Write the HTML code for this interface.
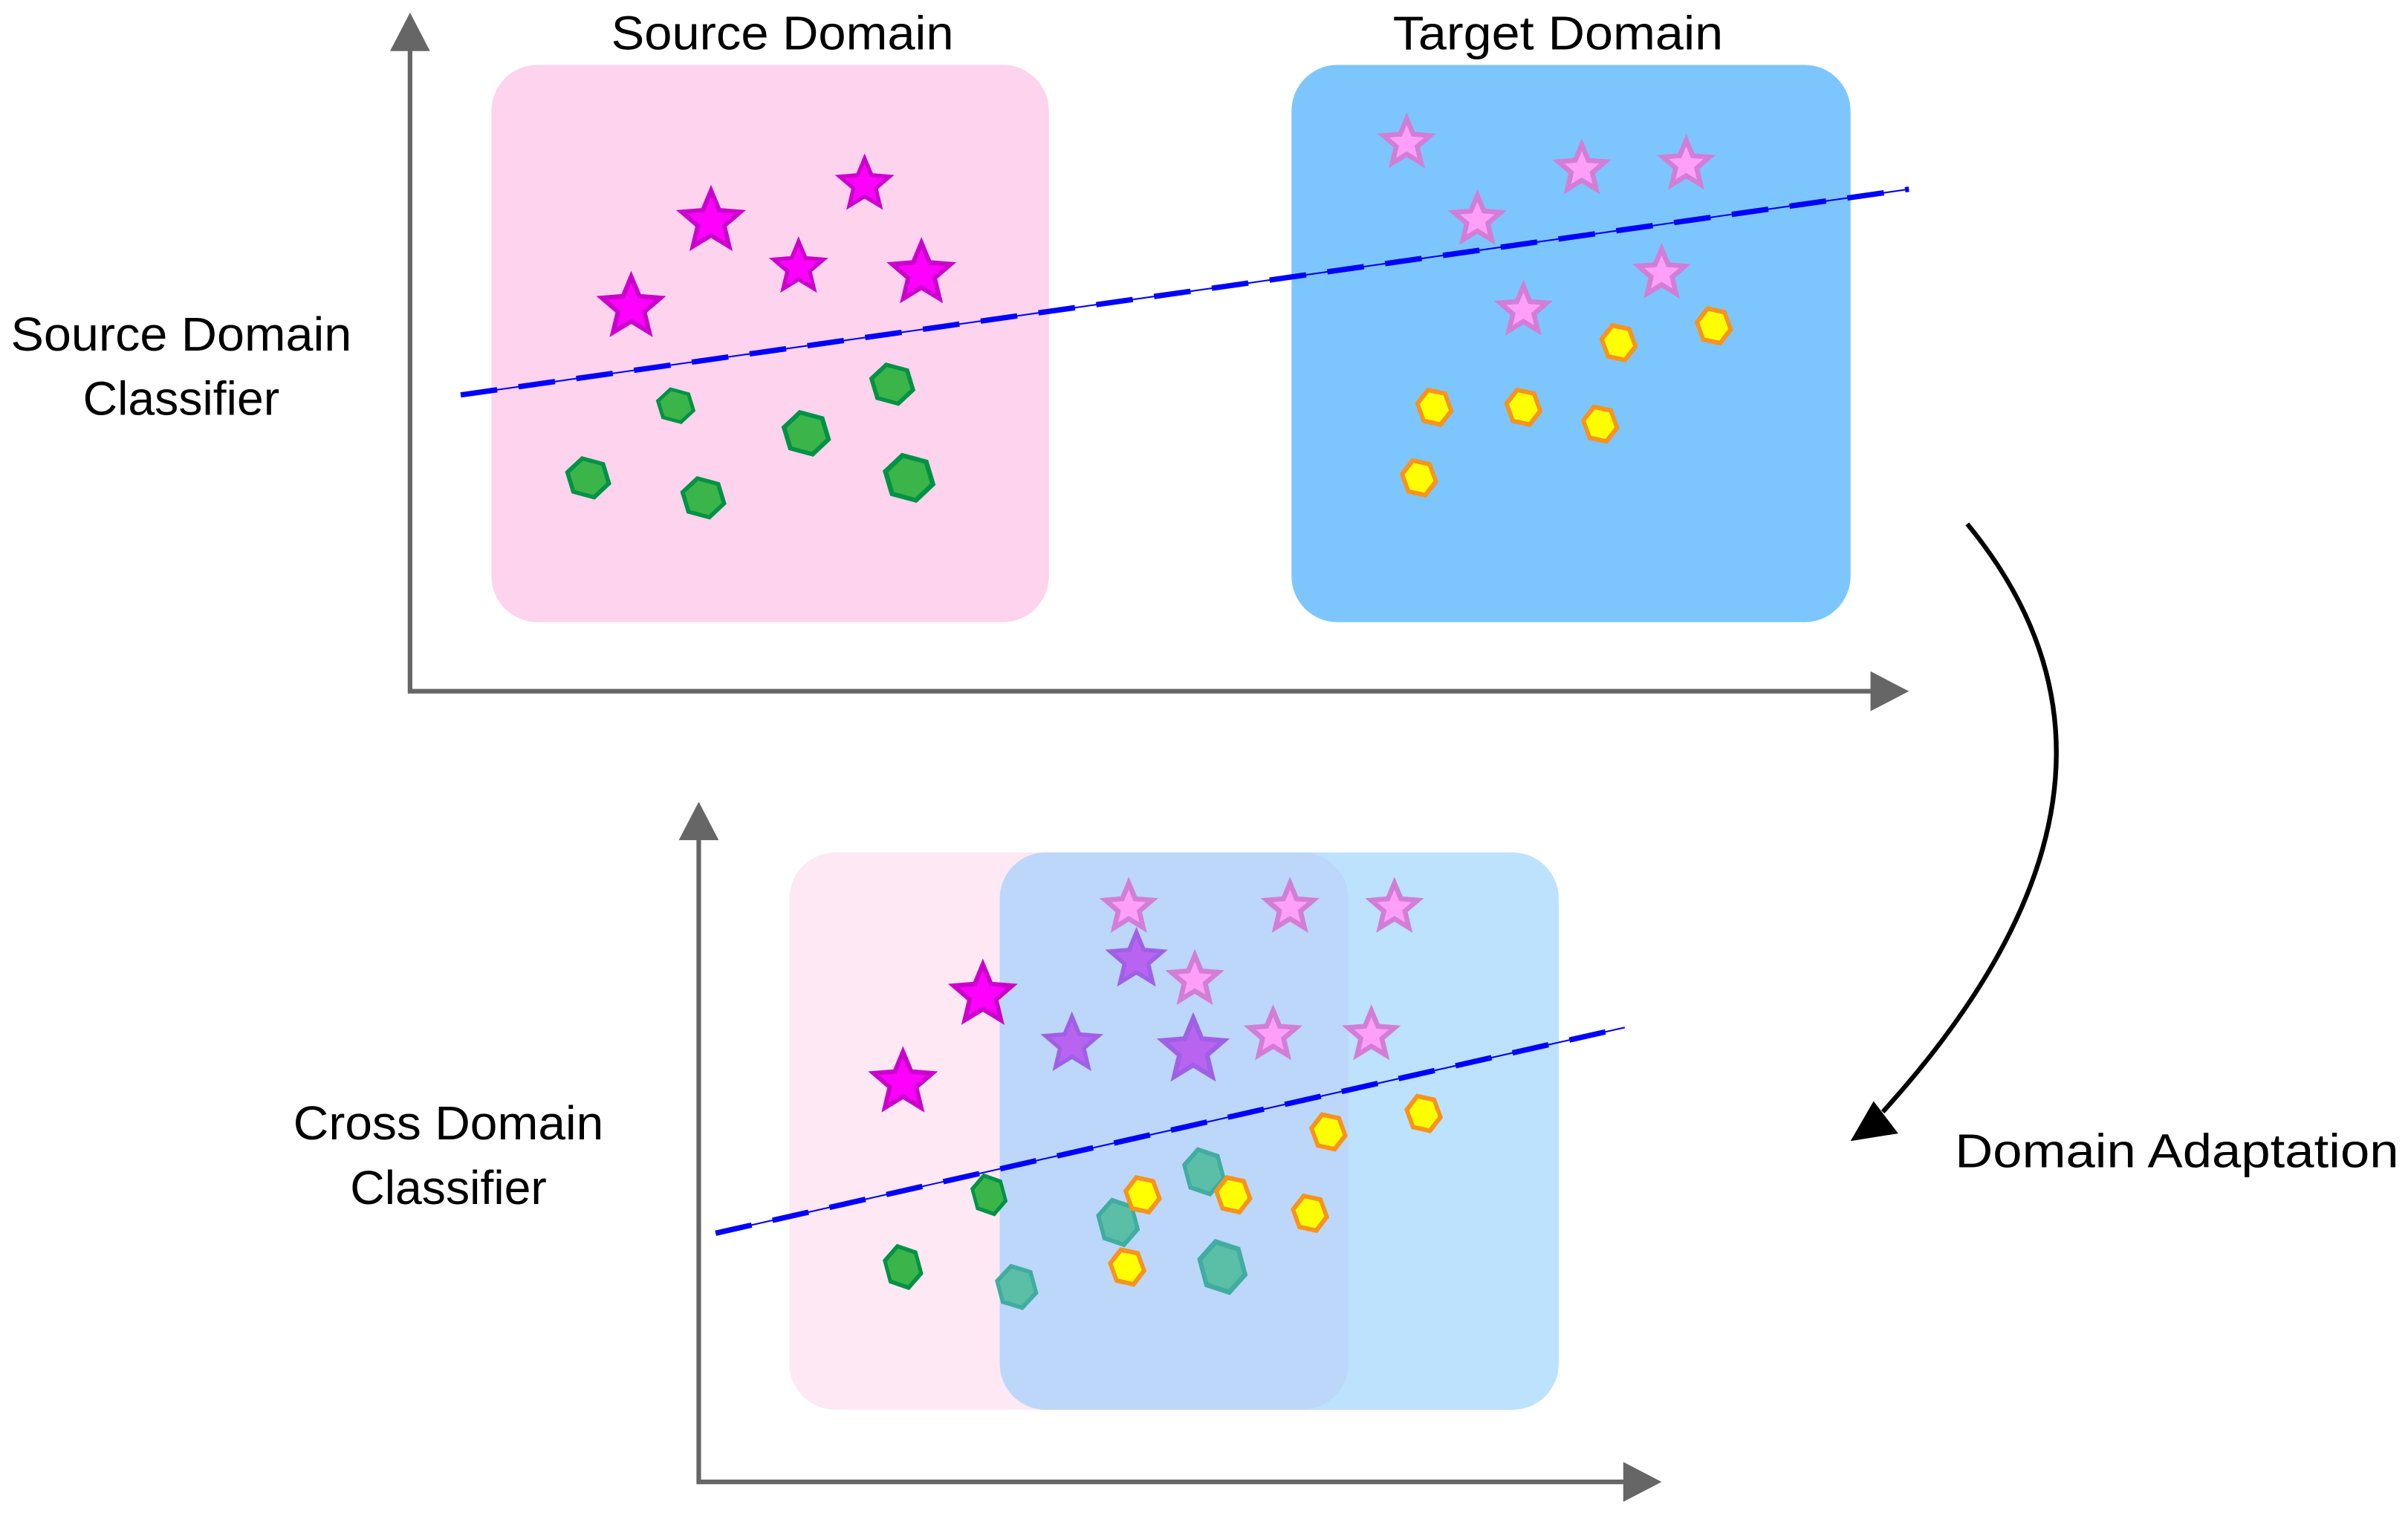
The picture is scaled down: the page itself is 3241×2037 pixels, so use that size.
<!DOCTYPE html>
<html><head><style>html,body{margin:0;padding:0;background:#fff}svg{display:block}</style></head>
<body>
<svg width="3241" height="2037" viewBox="0 0 1568 985" xmlns="http://www.w3.org/2000/svg" font-family="Liberation Sans, sans-serif">
<defs>
<path id="st" d="M0,-1 L.2645,-.364 L.951,-.309 L.428,.139 L.588,.809 L0,.45 L-.588,.809 L-.428,.139 L-.951,-.309 L-.2645,-.364Z"/>
<path id="hx" d="M1,0 L.5,.866 L-.5,.866 L-1,0 L-.5,-.866 L.5,-.866Z"/>
</defs>
<rect width="1568" height="985" fill="#fff"/>
<g stroke="#666" stroke-width="3" fill="none"><path d="M267,30 V450 H1220"/></g>
<path d="M254,33 L267,8 L280,33Z" fill="#666"/>
<path d="M1218,437 L1243,450 L1218,463Z" fill="#666"/>
<rect x="320" y="42" width="363" height="363" rx="30" fill="#fdd3ee"/>
<rect x="841" y="42" width="364" height="363" rx="30" fill="#7cc6fd"/>
<g font-size="31">
<text x="398" y="32" textLength="223" lengthAdjust="spacingAndGlyphs">Source Domain</text>
<text x="907" y="32" textLength="215" lengthAdjust="spacingAndGlyphs">Target Domain</text>
<text x="7" y="228" textLength="222" lengthAdjust="spacingAndGlyphs">Source Domain</text>
<text x="54" y="270" textLength="128" lengthAdjust="spacingAndGlyphs">Classifier</text>
<text x="191" y="742" textLength="202" lengthAdjust="spacingAndGlyphs">Cross Domain</text>
<text x="228" y="784" textLength="128" lengthAdjust="spacingAndGlyphs">Classifier</text>
<text x="1273" y="760" textLength="289" lengthAdjust="spacingAndGlyphs">Domain Adaptation</text>
</g>
<line x1="300" y1="257" x2="1243" y2="123" stroke="#0000ff" stroke-width="1"/>
<line x1="300" y1="257" x2="1243" y2="123" stroke="#0000ff" stroke-width="3.5" stroke-dasharray="24,14"/>
<g fill="#ff00ff" stroke="#cc00cc" stroke-width="0.15">
<use href="#st" transform="translate(463,144) scale(20)"/>
<use href="#st" transform="translate(563,120) scale(17)"/>
<use href="#st" transform="translate(520,174) scale(17)"/>
<use href="#st" transform="translate(600,178) scale(20)"/>
<use href="#st" transform="translate(411,200) scale(20)"/>
</g>
<g fill="#3bb44a" stroke="#009245" stroke-width="0.2">
<use href="#hx" transform="translate(383,311) rotate(15) scale(14,13)"/>
<use href="#hx" transform="translate(440,264) rotate(15) scale(12,11)"/>
<use href="#hx" transform="translate(458,324) rotate(15) scale(14,13)"/>
<use href="#hx" transform="translate(525,282) rotate(15) scale(15,14)"/>
<use href="#hx" transform="translate(581,250) rotate(15) scale(14,13)"/>
<use href="#hx" transform="translate(592,311) rotate(15) scale(16,15)"/>
</g>
<g fill="#ff9ff9" stroke="#d27ed7" stroke-width="0.2">
<use href="#st" transform="translate(916,93) scale(16)"/>
<use href="#st" transform="translate(1030,110) scale(16)"/>
<use href="#st" transform="translate(1098,107) scale(16)"/>
<use href="#st" transform="translate(962,143) scale(16)"/>
<use href="#st" transform="translate(1082,178) scale(16)"/>
<use href="#st" transform="translate(992,202) scale(16)"/>
</g>
<g fill="#ffff00" stroke="#f7931e" stroke-width="0.25">
<use href="#hx" transform="translate(1054,223) rotate(70) scale(12,11)"/>
<use href="#hx" transform="translate(1116,212) rotate(70) scale(12,11)"/>
<use href="#hx" transform="translate(934,265) rotate(70) scale(12,11)"/>
<use href="#hx" transform="translate(992,265) rotate(70) scale(12,11)"/>
<use href="#hx" transform="translate(1042,276) rotate(70) scale(12,11)"/>
<use href="#hx" transform="translate(924,311) rotate(70) scale(12,11)"/>
</g>
<path d="M1281,341 Q1420,510 1226,724" stroke="#000" stroke-width="3" fill="none"/>
<path d="M1205,743 L1220,717 L1236,738Z" fill="#000"/>
<g stroke="#666" stroke-width="3" fill="none"><path d="M455,545 V965 H1058"/></g>
<path d="M442,547 L455,522 L468,547Z" fill="#666"/>
<path d="M1057,952 L1082,965 L1057,978Z" fill="#666"/>
<rect x="514" y="555" width="364" height="363" rx="30" fill="#fde8f4"/>
<rect x="651" y="555" width="364" height="363" rx="30" fill="#7cc6fd" fill-opacity="0.5"/>
<g fill="#ff9ff9" stroke="#d27ed7" stroke-width="0.2">
<use href="#st" transform="translate(735,591) scale(16)"/>
<use href="#st" transform="translate(840,591) scale(16)"/>
<use href="#st" transform="translate(908,591) scale(16)"/>
<use href="#st" transform="translate(778,638) scale(16)"/>
<use href="#st" transform="translate(829,674) scale(16)"/>
<use href="#st" transform="translate(893,674) scale(16)"/>
</g>
<g fill="#b964f0" stroke="#a060e6" stroke-width="0.15">
<use href="#st" transform="translate(740,625) scale(18)"/>
<use href="#st" transform="translate(698,680) scale(18)"/>
<use href="#st" transform="translate(777,684) scale(21)"/>
</g>
<g fill="#ff00ff" stroke="#cc00cc" stroke-width="0.15">
<use href="#st" transform="translate(640,648) scale(20)"/>
<use href="#st" transform="translate(588,705) scale(20)"/>
</g>
<line x1="466" y1="803" x2="1058" y2="669" stroke="#0000ff" stroke-width="1"/>
<line x1="466" y1="803" x2="1058" y2="669" stroke="#0000ff" stroke-width="3.5" stroke-dasharray="24,14"/>
<g fill="#3bb44a" stroke="#009245" stroke-width="0.2">
<use href="#hx" transform="translate(644,778) rotate(75) scale(13,11)"/>
<use href="#hx" transform="translate(588,825) rotate(75) scale(14,12)"/>
</g>
<g fill="#5bbfa8" stroke="#40ada0" stroke-width="0.2">
<use href="#hx" transform="translate(728,796) rotate(75) scale(15,13)"/>
<use href="#hx" transform="translate(784,763) rotate(75) scale(15,13)"/>
<use href="#hx" transform="translate(662,838) rotate(75) scale(14,13)"/>
<use href="#hx" transform="translate(796,825) rotate(75) scale(17,15)"/>
</g>
<g fill="#ffff00" stroke="#f7931e" stroke-width="0.25">
<use href="#hx" transform="translate(744,778) rotate(70) scale(12,11)"/>
<use href="#hx" transform="translate(803,778) rotate(70) scale(12,11)"/>
<use href="#hx" transform="translate(853,790) rotate(70) scale(12,11)"/>
<use href="#hx" transform="translate(865,737) rotate(70) scale(12,11)"/>
<use href="#hx" transform="translate(927,725) rotate(70) scale(12,11)"/>
<use href="#hx" transform="translate(734,825) rotate(70) scale(12,11)"/>
</g>
</svg>
</body></html>
